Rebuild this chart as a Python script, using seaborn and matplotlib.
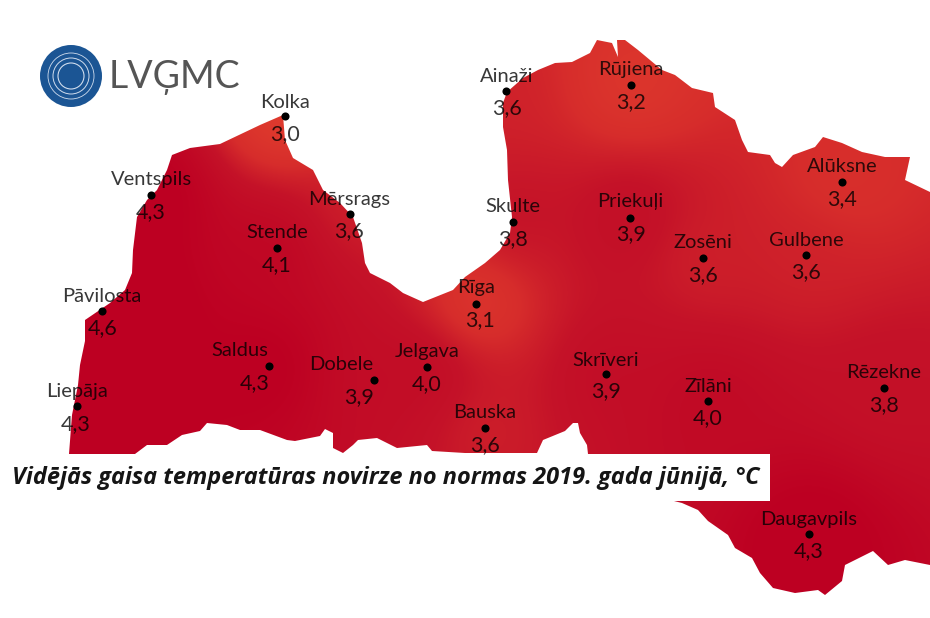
import numpy as np
import pandas as pd
import matplotlib
matplotlib.use("Agg")
import matplotlib.pyplot as plt
from matplotlib.colors import LinearSegmentedColormap
from matplotlib.patches import Polygon, Circle, Rectangle
import seaborn as sns

stations = ["Kolka", "Ventspils", "Mērsrags", "Stende", "Pāvilosta", "Saldus", "Dobele", "Jelgava",
            "Liepāja", "Rīga", "Bauska", "Ainaži", "Rūjiena", "Skulte", "Priekuļi", "Zosēni",
            "Gulbene", "Alūksne", "Skrīveri", "Zīlāni", "Rēzekne", "Daugavpils"]
anomaly = [3.0, 4.3, 3.6, 4.1, 4.6, 4.3, 3.9, 4.0,
           4.3, 3.1, 3.6, 3.6, 3.2, 3.8, 3.9, 3.6,
           3.6, 3.4, 3.9, 4.0, 3.8, 4.3]
# station positions on the map sheet
map_x = [285, 151, 350, 277, 102, 269, 374, 427, 77, 476, 485, 506, 631, 513, 630, 703, 806, 842, 606, 708, 884, 809]
map_y = [116, 195, 214, 248, 311, 366, 380, 367, 406, 304, 428, 91, 85, 222, 218, 258, 255, 182, 374, 401, 388, 534]
name_x = [285, 151, 349, 277, 102, 240, 341, 427, 77, 476, 485, 507, 631, 513, 630, 703, 806, 842, 606, 708, 884, 809]
name_y = [102, 180, 199, 233, 296, 351, 365, 352, 391, 288, 413, 76, 70, 207, 202, 243, 240, 167, 360, 386, 373, 519]
val_x = [285, 151, 349, 277, 103, 255, 359, 427, 76, 480, 485, 507, 631, 513, 631, 703, 806, 842, 606, 708, 884, 809]
val_y = [134, 212, 231, 265, 328, 383, 397, 384, 424, 320, 445, 108, 102, 239, 234, 275, 272, 199, 391, 418, 405, 551]

border_x = [283, 260, 220, 190, 172, 167, 157, 147, 137, 133, 132, 125, 110, 85, 85, 80, 78, 72, 69, 135, 147, 167,
            182, 200, 207, 227, 240, 260, 287, 295, 320, 325, 333, 333, 343, 353, 358, 377, 397, 427, 432, 465, 537,
            543, 565, 573, 578, 580, 587, 588, 588, 650, 682, 698, 708, 728, 735, 752, 760, 773, 795, 818, 825, 842,
            845, 865, 873, 888, 905, 930, 930, 905, 910, 885, 862, 842, 823, 815, 793, 782, 775, 770, 748, 742, 735,
            715, 713, 692, 675, 662, 638, 625, 617, 618, 612, 597, 590, 572, 555, 538, 523, 507, 503, 503, 507, 508,
            512, 510, 500, 485, 465, 453, 423, 403, 390, 370, 365, 362, 353, 340, 323, 313, 293, 285]
border_y = [115, 125, 144, 148, 155, 170, 190, 200, 217, 250, 273, 290, 303, 320, 341, 365, 385, 415, 454, 454, 445, 445,
            435, 431, 423, 425, 430, 430, 440, 441, 436, 429, 433, 448, 453, 445, 440, 438, 448, 445, 451, 453, 453,
            440, 431, 423, 423, 433, 445, 454, 470, 495, 503, 510, 521, 535, 548, 558, 573, 588, 593, 590, 595, 581,
            565, 555, 551, 565, 560, 565, 192, 180, 157, 157, 152, 143, 137, 147, 155, 167, 163, 155, 152, 140, 120,
            107, 93, 88, 75, 70, 50, 40, 40, 57, 43, 40, 53, 62, 63, 70, 78, 92, 103, 127, 150, 180,
            217, 233, 250, 263, 277, 290, 302, 293, 283, 273, 263, 243, 217, 203, 190, 170, 158, 140]

title = "Vidējās gaisa temperatūras novirze no normas 2019. gada jūnijā, °C"
logo_text = "LVĢMC"

sns.set_theme(style="white")
plt.rcParams["font.family"] = ["Lato", "DejaVu Sans"]

W, H = 930, 618
fig = plt.figure(figsize=(W / 100, H / 100), dpi=100)
ax = fig.add_axes([0, 0, 1, 1])

# Temperature surface: smooth weighted blend of the station values
xx, yy = np.meshgrid(np.arange(W) + 0.5, np.arange(H) + 0.5)
sx, sy, sv = np.array(map_x), np.array(map_y), np.array(anomaly)
d2 = (xx[..., None] - sx) ** 2 + (yy[..., None] - sy) ** 2 + 50.0 ** 2
wt = 1.0 / d2 ** 1.5
field = (wt * sv).sum(-1) / wt.sum(-1)

cmap = LinearSegmentedColormap.from_list(
    "anom", [(0.0, "#df3b2d"), (0.35, "#d62c2b"), (0.6, "#c41228"), (1.0, "#bd0022")])
sns.heatmap(pd.DataFrame(field), ax=ax, cmap=cmap, vmin=3.1, vmax=4.2, cbar=False,
            xticklabels=False, yticklabels=False, square=False, rasterized=True)
ax.set_xlim(0, W)
ax.set_ylim(H, 0)
ax.axis("off")
shape = Polygon(np.column_stack([border_x, border_y]), closed=True, transform=ax.transData,
                facecolor="none", edgecolor="none")
ax.add_patch(shape)
ax.collections[0].set_clip_path(shape)

# White caption band
ax.add_patch(Rectangle((0, 454), 770, 47, facecolor="white", edgecolor="none", zorder=3))
ax.text(12, 478, title, fontsize=16.9, fontweight="bold", fontstyle="italic", color="#151515",
        family=["Open Sans", "DejaVu Sans"], ha="left", va="center", zorder=4)

# Stations
frame = pd.DataFrame({"x": map_x, "y": map_y})
sns.scatterplot(data=frame, x="x", y="y", ax=ax, s=34, color="black", linewidth=0, zorder=5, legend=False)
ax.set_xlim(0, W)
ax.set_ylim(H, 0)
ax.axis("off")
for name, nx, ny, v, vx, vy in zip(stations, name_x, name_y, anomaly, val_x, val_y):
    ax.text(nx, ny, name, fontsize=14.5, color="black", alpha=0.78, ha="center", va="center", zorder=6)
    ax.text(vx, vy, f"{v:.1f}".replace(".", ","), fontsize=15.5, color="black", alpha=0.78,
            ha="center", va="center", zorder=6)

# Logo
ax.add_patch(Circle((71, 76), 31, facecolor="#1b5594", edgecolor="none", zorder=4))
for r, lw in zip([13, 18, 23], [0.8, 0.7, 0.6]):
    ax.add_patch(Circle((71, 76), r, facecolor="none", edgecolor="#cfdced", linewidth=lw, zorder=5))
ax.text(109, 77, logo_text, fontsize=27, color="#555555", ha="left", va="center", zorder=5)

fig.savefig("out.png", dpi=100, facecolor="white")
